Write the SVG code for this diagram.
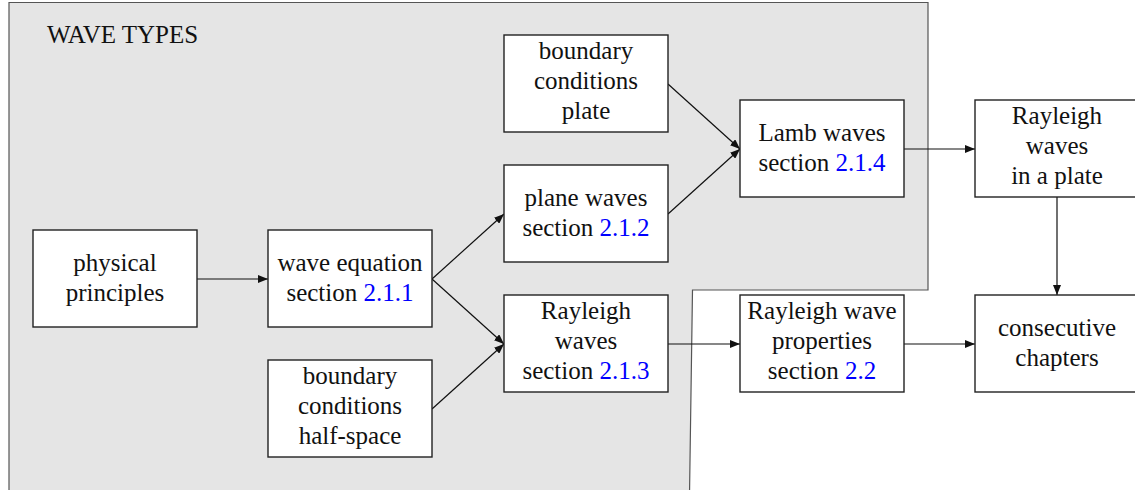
<svg xmlns="http://www.w3.org/2000/svg" width="1135" height="490" viewBox="0 0 1135 490">
<style>
  .box{fill:#fff;stroke:#222;stroke-width:1.4}
  text{font-family:"Liberation Serif","Times New Roman",serif;font-size:25px;fill:#111;text-anchor:middle}
  .ref{fill:#0000ff}
  .edge{stroke:#111;stroke-width:1.2;fill:none;marker-end:url(#ah)}
</style>
<defs>
  <marker id="ah" viewBox="0 0 10 8" refX="10" refY="4" markerWidth="10" markerHeight="8" markerUnits="userSpaceOnUse" orient="auto">
    <path d="M0,0 L10,4 L0,8 z" fill="#111"/>
  </marker>
</defs>
<rect width="1135" height="490" fill="#fff"/>
<g id="region">
  <path d="M9,495 L9,2.5 L928,2.5 L928,290 L692.5,290 L689.5,495" fill="#e5e5e5" stroke="#555" stroke-width="1.2"/>
  <text x="47" y="43" style="text-anchor:start;font-size:25px">WAVE TYPES</text>
</g>
<g id="connectors">
  <line class="edge" x1="197" y1="279" x2="268" y2="279"/>
  <line class="edge" x1="432" y1="279" x2="504" y2="214"/>
  <line class="edge" x1="432" y1="279" x2="504" y2="344"/>
  <line class="edge" x1="432" y1="409" x2="504" y2="344"/>
  <line class="edge" x1="668" y1="214" x2="740" y2="149"/>
  <line class="edge" x1="668" y1="84" x2="740" y2="149"/>
  <line class="edge" x1="904" y1="149" x2="975" y2="149"/>
  <line class="edge" x1="668" y1="344" x2="740" y2="344"/>
  <line class="edge" x1="904" y1="344" x2="975" y2="344"/>
  <line class="edge" x1="1057" y1="197" x2="1057" y2="295"/>
</g>
<g id="physical">
  <rect class="box" x="33" y="230" width="164" height="97"/>
  <text x="115" y="271">physical</text>
  <text x="115" y="301">principles</text>
</g>
<g id="waveeq">
  <rect class="box" x="268" y="230" width="164" height="97"/>
  <text x="350" y="271">wave equation</text>
  <text x="350" y="301">section <tspan class="ref">2.1.1</tspan></text>
</g>
<g id="bchalf">
  <rect class="box" x="268" y="360" width="164" height="97"/>
  <text x="350" y="384">boundary</text>
  <text x="350" y="414">conditions</text>
  <text x="350" y="444">half-space</text>
</g>
<g id="bcplate">
  <rect class="box" x="504" y="35" width="164" height="97"/>
  <text x="586" y="59">boundary</text>
  <text x="586" y="89">conditions</text>
  <text x="586" y="119">plate</text>
</g>
<g id="plane">
  <rect class="box" x="504" y="165" width="164" height="97"/>
  <text x="586" y="206">plane waves</text>
  <text x="586" y="236">section <tspan class="ref">2.1.2</tspan></text>
</g>
<g id="rayleigh">
  <rect class="box" x="504" y="295" width="164" height="97"/>
  <text x="586" y="319">Rayleigh</text>
  <text x="586" y="349">waves</text>
  <text x="586" y="379">section <tspan class="ref">2.1.3</tspan></text>
</g>
<g id="lamb">
  <rect class="box" x="740" y="100" width="164" height="97"/>
  <text x="822" y="141">Lamb waves</text>
  <text x="822" y="171">section <tspan class="ref">2.1.4</tspan></text>
</g>
<g id="rayplate">
  <rect class="box" x="975" y="100" width="164" height="97"/>
  <text x="1057" y="124">Rayleigh</text>
  <text x="1057" y="154">waves</text>
  <text x="1057" y="184">in a plate</text>
</g>
<g id="props">
  <rect class="box" x="740" y="295" width="164" height="97"/>
  <text x="822" y="319">Rayleigh wave</text>
  <text x="822" y="349">properties</text>
  <text x="822" y="379">section <tspan class="ref">2.2</tspan></text>
</g>
<g id="chapters">
  <rect class="box" x="975" y="295" width="164" height="97"/>
  <text x="1057" y="336">consecutive</text>
  <text x="1057" y="366">chapters</text>
</g>
</svg>
